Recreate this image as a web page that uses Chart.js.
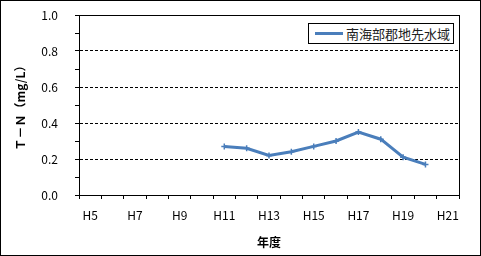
<!DOCTYPE html>
<html>
<head>
<meta charset="utf-8">
<script src="https://cdn.jsdelivr.net/npm/chart.js@4"></script>
<style>
  body { margin: 0; background: #fff; }
  #wrap { position: relative; width: 481px; height: 256px; }
  #legend {
    position: absolute; left: 308px; top: 23px; width: 144px; height: 19px;
    border: 1px solid #000; background: #fff;
    font: 13px "Noto Sans CJK JP", sans-serif; color: #222;
    display: flex; align-items: center; white-space: nowrap;
  }
  #legend .swatch { display: inline-block; width: 28px; height: 3px; margin: 0 3px 0 6px; }
</style>
</head>
<body>
<div id="wrap">
  <canvas id="grafico" width="481" height="256"></canvas>
  <div id="legend"></div>
</div>
<script>
// Categorias (年度) e valores de T-N
const anos = ["H5", "H6", "H7", "H8", "H9", "H10", "H11", "H12", "H13", "H14",
              "H15", "H16", "H17", "H18", "H19", "H20", "H21"];
const nomeSerie = "南海部郡地先水域";
const valoresTN = [null, null, null, null, null, null,
                   0.27, 0.26, 0.22, 0.24, 0.27, 0.30, 0.35, 0.31, 0.21, 0.17, null];
const corLinha = "#4a7ebb";

// Legenda em HTML
const legenda = document.getElementById("legend");
legenda.innerHTML = `<span class="swatch" style="background:${corLinha}"></span>${nomeSerie}`;

// Moldura do gráfico e da área de plotagem
const molduras = {
  id: "molduras",
  afterDraw(chart) {
    const {ctx, chartArea: a} = chart;
    ctx.save();
    ctx.strokeStyle = "#000";
    ctx.lineWidth = 1;
    ctx.strokeRect(Math.round(a.left) + 0.5, Math.round(a.top) + 0.5,
                   Math.round(a.right - a.left), Math.round(a.bottom - a.top));
    ctx.strokeRect(0.5, 0.5, chart.width - 1, chart.height - 1);
    ctx.restore();
  }
};

const fonteTicks = { family: "'Noto Sans CJK JP', sans-serif", size: 12 };
const fonteTitulo = { family: "'Noto Sans CJK JP', sans-serif", size: 12, weight: "bold" };

new Chart(document.getElementById("grafico"), {
  type: "line",
  data: {
    labels: anos,
    datasets: [{
      label: nomeSerie,
      data: valoresTN,
      borderColor: corLinha,
      backgroundColor: corLinha,
      borderWidth: 3,
      pointStyle: "cross",
      pointRadius: 3,
      pointBorderWidth: 1.5,
      tension: 0,
      spanGaps: false
    }]
  },
  options: {
    responsive: false,
    animation: false,
    layout: { padding: { left: 0, right: 22, top: 15, bottom: 0 } },
    plugins: { legend: { display: false }, tooltip: { enabled: false } },
    scales: {
      x: {
        offset: true,
        afterFit: s => { s.height = 61; s.paddingLeft = 0; s.paddingRight = 0; },
        grid: { offset: true, drawOnChartArea: false, color: "#000", tickLength: 4 },
        border: { color: "#000" },
        ticks: {
          autoSkip: false, maxRotation: 0, padding: 9, color: "#000", font: fonteTicks,
          callback: function (v, i) { return i % 2 === 0 ? this.getLabelForValue(v) : ""; }
        },
        title: { display: true, text: "年度", color: "#000", font: fonteTitulo, padding: { top: 0, bottom: 6 } }
      },
      y: {
        min: 0, max: 1,
        afterFit: s => { s.width = 79; s.paddingTop = 0; s.paddingBottom = 0; },
        grid: {
          color: c => {
            const k = Math.round(c.tick.value * 10);
            return (k > 0 && k < 10 && k % 2 === 0) ? "#000" : "rgba(0,0,0,0)";
          },
          tickColor: "#000", tickLength: 4
        },
        border: { color: "#000", dash: [3, 2] },
        ticks: {
          stepSize: 0.1, padding: 17, color: "#000", font: fonteTicks,
          callback: v => (Math.round(v * 10) % 2 === 0 ? v.toFixed(1) : "")
        },
        title: { display: true, text: "Ｔ－Ｎ（mg/L）", color: "#000", font: fonteTitulo, padding: { top: 13, bottom: 0 } }
      }
    }
  },
  plugins: [molduras]
});
</script>
</body>
</html>
